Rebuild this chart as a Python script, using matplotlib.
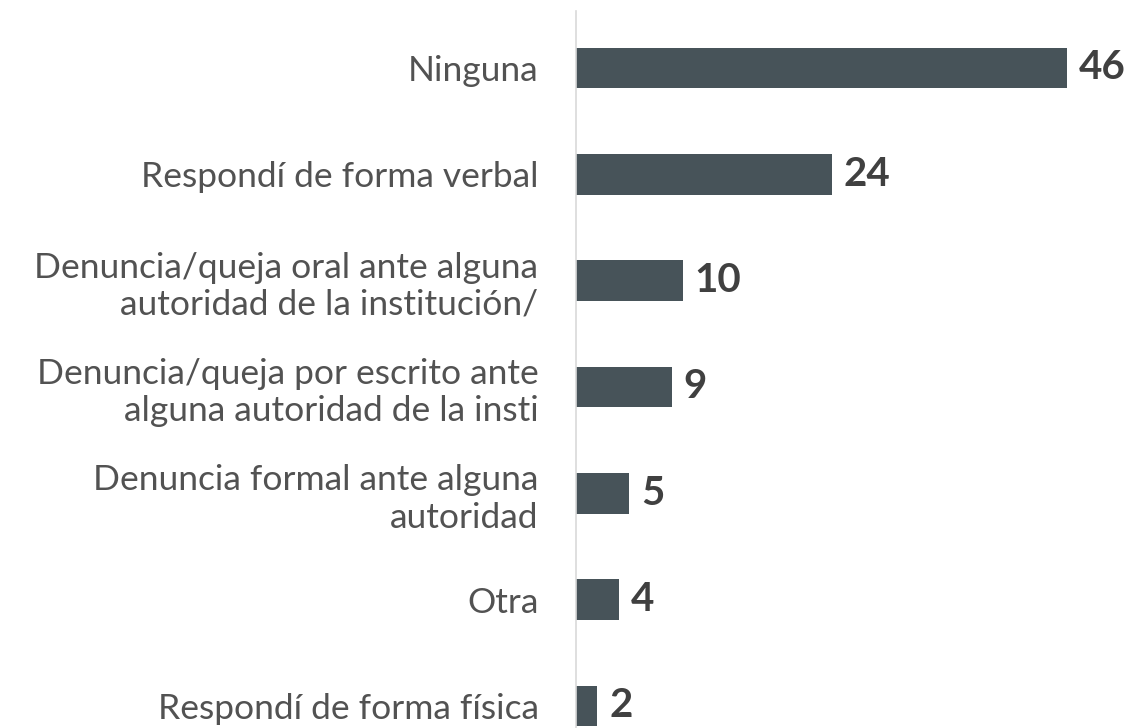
import matplotlib.pyplot as plt

plt.rcParams['font.family'] = ['Lato', 'DejaVu Sans']

# data, top to bottom
categories = ['Ninguna',
              'Respondí de forma verbal',
              'Denuncia/queja oral ante alguna\nautoridad de la institución/',
              'Denuncia/queja por escrito ante\nalguna autoridad de la insti',
              'Denuncia formal ante alguna\nautoridad',
              'Otra',
              'Respondí de forma física']
values = [46, 24, 10, 9, 5, 4, 2]

bar_color = '#475359'
text_color = '#404040'
label_color = '#525252'

fig = plt.figure(figsize=(11.35, 7.28), dpi=100)
ax = fig.add_axes([576 / 1135, 0, 1 - 576 / 1135, 1 - 11 / 728])

pos = list(range(len(categories)))
ax.barh(pos, values, height=0.38, color=bar_color)

for p, v in zip(pos, values):
    ax.text(v + 1.1, p, str(v), va='center', ha='left', fontsize=29,
            fontweight='bold', color=text_color)

ax.set_yticks(pos)
ax.set_yticklabels(categories, fontsize=25.5, color=label_color, linespacing=1.2)
ax.tick_params(axis='y', length=0, pad=27)
ax.set_xticks([])
ax.set_xlim(0, 52.4)
ax.set_ylim(6.207, -0.536)

for s in ['top', 'right', 'bottom']:
    ax.spines[s].set_visible(False)
ax.spines['left'].set_color('#d9d9d9')
ax.spines['left'].set_linewidth(1.2)

fig.savefig('out.png', dpi=100)
